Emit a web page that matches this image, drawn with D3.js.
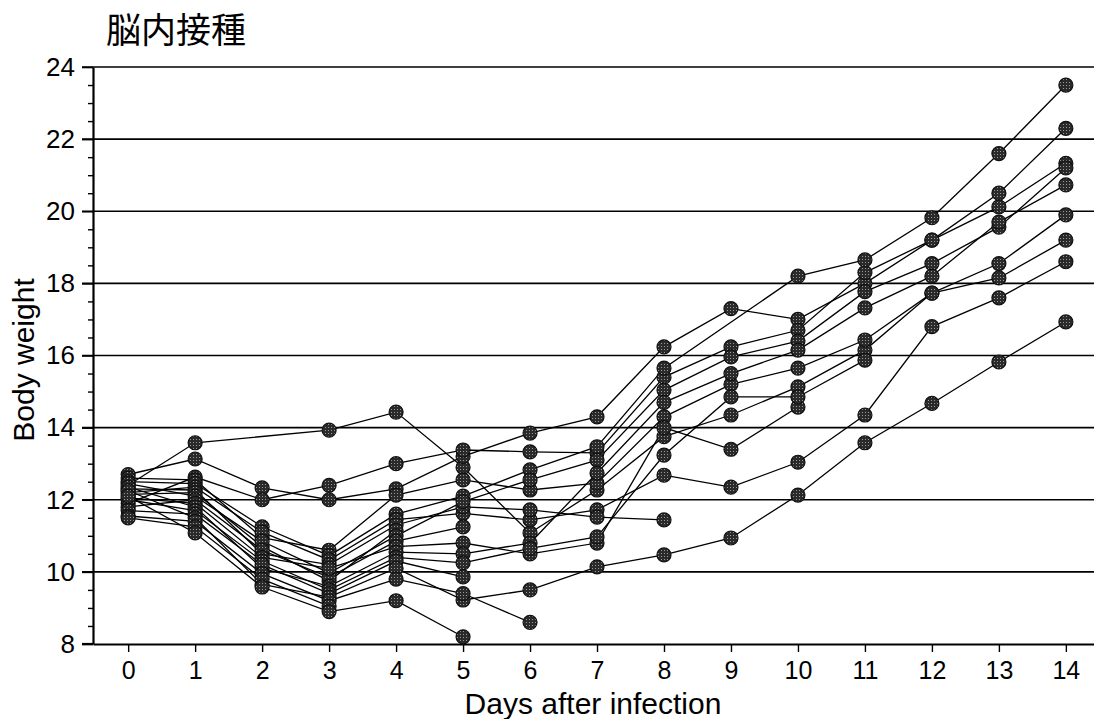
<!DOCTYPE html>
<html><head><meta charset="utf-8">
<script src="https://cdn.jsdelivr.net/npm/d3@7"></script>
<style>body{margin:0;background:#fff}</style></head><body>
<svg id="c" width="1094" height="719"></svg>
<script>
// ---- data ----
const days = [0,1,2,3,4,5,6,7,8,9,10,11,12,13,14];
const yMajorTicks = [8,10,12,14,16,18,20,22,24];
const yMinorTicks = [8.5,9,9.5,10.5,11,11.5,12.5,13,13.5,14.5,15,15.5,16.5,17,17.5,18.5,19,19.5,20.5,21,21.5,22.5,23,23.5];
const gridValues = [10,12,14,16,18,20,22,24];
const titleText = "脳内接種";
const xTitle = "Days after infection";
const yTitle = "Body weight";

// body weight per mouse, by day (null = not measured / dead)
const m01 = [12.4,13.58,null,13.93,14.43,12.9,11.08,12.27,13.75,14.35,15.13,16.15,17.73,18.15,19.2];
const m02 = [12.7,13.13,12.33,12.0,12.3,13.2,13.85,14.3,16.24,17.3,17.0,18.0,19.2,20.12,21.33];
const m03 = [11.9,12.63,12.0,12.4,13.0,13.38,13.33,13.3,15.4,16.24,16.7,18.3,19.2,20.5,22.3];
const m04 = [12.6,12.55,10.95,10.6,12.13,12.55,12.27,12.46,14.3,15.2,15.65,16.43,17.73,18.55,19.9];
const m05 = [12.5,12.45,11.25,10.45,11.6,12.1,12.83,13.47,15.65,null,18.2,18.65,19.82,21.6,23.5];
const m06 = [12.2,12.35,11.1,10.33,11.45,11.62,11.44,11.72,12.68,12.35,13.04,14.35,16.8,17.6,18.6];
const m07 = [12.3,12.27,10.5,10.2,11.3,11.8,11.72,11.52,11.44];
const m08 = [12.15,12.2,10.7,9.75,11.15];
const m09 = [12.45,12.1,10.85,9.97,11.0,11.95,12.55,13.1,15.04,15.96,16.4,17.77,18.55,19.56,21.2];
const m10 = [11.8,12.0,10.6,9.85,10.85,11.25];
const m11 = [12.05,11.9,10.4,10.1,10.7,10.8,10.5,10.8,14.0,13.4,14.57];
const m12 = [12.35,11.8,10.1,9.6,10.55,10.5,10.8,12.74,14.7,15.5,16.15,17.32,18.2,19.7,20.73];
const m13 = [12.0,11.7,10.3,9.5,10.4,10.25,10.65,10.97,13.24,14.85,14.85,15.87];
const m14 = [11.7,11.6,10.2,9.4,10.3,9.86];
const m15 = [12.25,11.5,9.65,9.3,10.1,9.22,9.5,10.14,10.47,10.94,12.13,13.58,14.67,15.82,16.93];
const m16 = [11.55,11.4,9.95,9.2,9.8,9.4,8.6];
const m17 = [11.5,11.25,9.8,9.05];
const m18 = [12.1,11.08,9.58,8.9,9.2,8.2];
const mice = [m01,m02,m03,m04,m05,m06,m07,m08,m09,m10,m11,m12,m13,m14,m15,m16,m17,m18];

// ---- drawing ----
const svg = d3.select('#c');
const font = "'Liberation Sans', Arial, sans-serif";
const x = d3.scaleLinear().domain([-0.525, 14.42]).range([93, 1094]);
const y = d3.scaleLinear().domain([8, 24]).range([644, 67]);

const defs = svg.append('defs');
const pat = defs.append('pattern').attr('id','ht').attr('patternUnits','userSpaceOnUse')
  .attr('width',3).attr('height',3);
pat.append('rect').attr('width',3).attr('height',3).attr('fill','#2a2a2a');
pat.append('rect').attr('x',1).attr('y',1).attr('width',1).attr('height',1).attr('fill','#9a9a9a');

// gridlines
svg.append('g').selectAll('line').data(gridValues).join('line')
  .attr('x1', x.range()[0] - 11).attr('x2', x.range()[1])
  .attr('y1', d => y(d)).attr('y2', d => y(d))
  .attr('stroke', '#000').attr('stroke-width', 1.6);

// minor y ticks
const gMinor = svg.append('g').attr('transform', `translate(${x.range()[0]},0)`)
  .call(d3.axisLeft(y).tickValues(yMinorTicks).tickSize(5).tickFormat(''));
gMinor.select('.domain').remove();
gMinor.selectAll('line').attr('stroke','#000').attr('stroke-width',1.4);

// major y axis
const gY = svg.append('g').attr('transform', `translate(${x.range()[0]},0)`)
  .call(d3.axisLeft(y).tickValues(yMajorTicks).tickSize(11).tickSizeOuter(0).tickPadding(7));
gY.select('.domain').attr('stroke','#000').attr('stroke-width',2.2);
gY.selectAll('line').attr('stroke','#000').attr('stroke-width',1.6);
gY.selectAll('text').attr('font-family', font).attr('font-size', 26).attr('fill','#000');

// x axis
const gX = svg.append('g').attr('transform', `translate(0,${y(8)})`)
  .call(d3.axisBottom(x).tickValues(days).tickSize(8).tickSizeOuter(0).tickPadding(9));
gX.select('.domain').attr('stroke','#000').attr('stroke-width',2.2);
gX.selectAll('line').attr('stroke','#000').attr('stroke-width',1.4);
gX.selectAll('text').attr('font-family', font).attr('font-size', 25).attr('fill','#000');
svg.append('line').attr('x1', x.range()[0]-11).attr('x2', x.range()[0])
  .attr('y1', y(8)).attr('y2', y(8)).attr('stroke','#000').attr('stroke-width',2.2);

// series lines
const line = d3.line().x(p => x(p.d)).y(p => y(p.v));
const pts = mice.map(arr => arr.map((v,i) => ({d: days[i], v})).filter(p => p.v != null));
svg.append('g').selectAll('path').data(pts).join('path')
  .attr('d', line).attr('fill','none').attr('stroke','#000').attr('stroke-width',1.3);

// markers
svg.append('g').selectAll('circle').data(pts.flat()).join('circle')
  .attr('cx', p => x(p.d)).attr('cy', p => y(p.v)).attr('r', 7)
  .attr('fill', 'url(#ht)').attr('stroke', '#111').attr('stroke-width', 1.2);

// titles
svg.append('text').attr('x', 106).attr('y', 43).text(titleText)
  .attr('font-family', "'Noto Sans CJK JP', sans-serif").attr('font-size', 35).attr('fill','#000');
svg.append('text').attr('x', 593).attr('y', 714).attr('text-anchor','middle').text(xTitle)
  .attr('font-family', font).attr('font-size', 30).attr('fill','#000');
svg.append('text').attr('transform', 'translate(34,360) rotate(-90)').attr('text-anchor','middle').text(yTitle)
  .attr('font-family', font).attr('font-size', 30).attr('fill','#000');
</script>
</body></html>
